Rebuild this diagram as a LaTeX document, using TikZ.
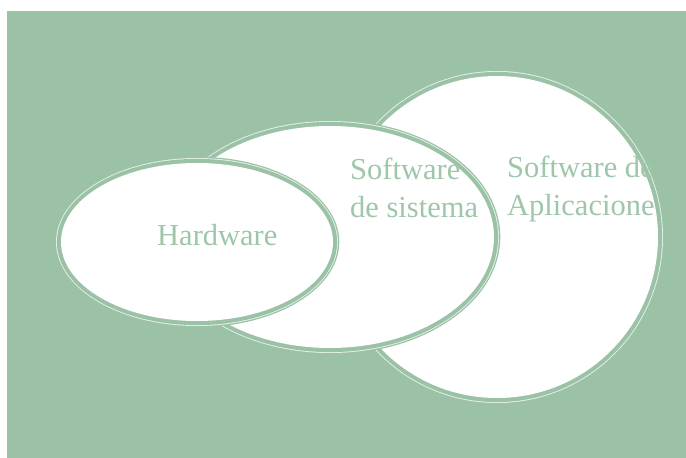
\documentclass[tikz,border=0pt]{standalone}
\usepackage{fontspec}
\setmainfont{Liberation Serif}
\definecolor{sage}{RGB}{155,194,166}
\definecolor{sagetext}{RGB}{158,199,170}
\colorlet{rimline}{white!75!sage}
\tikzset{
  label text/.style={inner sep=0pt, anchor=base west, align=left, text=sagetext,
    font=\fontsize{30.5}{38}\selectfont},
}
% One Venn shape: white body, thick sage rim, thin light line, thin sage outline
\newcommand\vennshape[3]{%
  \fill[sage]     #1 ellipse[x radius=#2+6.3, y radius=#3+6.3];
  \fill[rimline]  #1 ellipse[x radius=#2+5.0, y radius=#3+5.0];
  \fill[sage]     #1 ellipse[x radius=#2+4.1, y radius=#3+4.1];
  \fill[white]    #1 ellipse[x radius=#2,     y radius=#3];
}
\begin{document}
\begin{tikzpicture}[x=1pt,y=-1pt]
  \useasboundingbox (0,0) rectangle (686,458);
  \fill[sage] (7,11) rectangle (686,458);

  % back to front
  \coordinate (apps) at (497,237);
  \coordinate (sys)  at (330,237);
  \coordinate (hw)   at (197,242);
  \vennshape{(apps)}{161}{161}
  \vennshape{(sys)}{164}{111}
  \vennshape{(hw)}{136}{79}

  \node[label text] (thw)   at (157,245) {Hardware};
  \node[label text] (tsys)  at (350,217) {Software\\de sistema};
  \node[label text] (tapps) at (507,215) {Software de\\Aplicacione};
\end{tikzpicture}
\end{document}
